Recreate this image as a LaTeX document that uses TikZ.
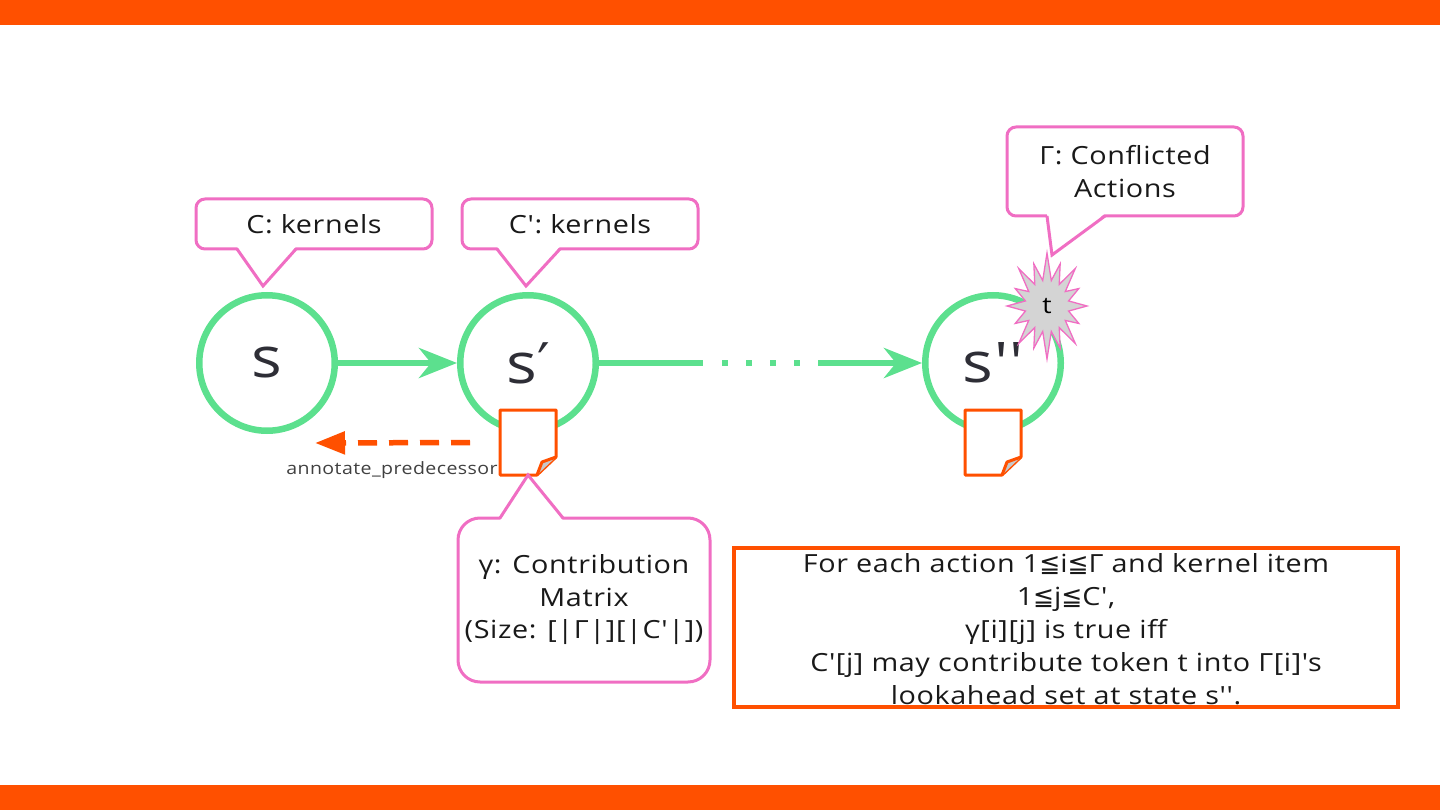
\documentclass[tikz,border=0pt]{standalone}
\usepackage{fontspec}
\setmainfont{Open Sans}[Ligatures=TeXOff,FakeStretch=1.15,LetterSpace=2.5]
\newfontfamily\symfont{DejaVu Sans}
\usetikzlibrary{arrows.meta,positioning}

\definecolor{brandorange}{HTML}{FF5000}
\definecolor{stategreen}{HTML}{5CE08E}
\definecolor{notepink}{HTML}{F06EC3}
\definecolor{burstgray}{HTML}{D4D4D4}
\definecolor{foldgray}{HTML}{C8C8C8}
\definecolor{labelgray}{HTML}{2E2E36}

\tikzset{
	state/.style={circle,draw=stategreen,line width=6.5pt,minimum size=135.5pt,inner sep=0pt,
		font=\fontsize{56}{60}\selectfont,text=labelgray},
	note/.style={draw=notepink,line width=3pt,fill=white,rounded corners=9pt,align=center,
		inner sep=0pt,outer sep=0pt,font=\fontsize{25}{32.5}\selectfont,text=black!90},
	pointer/.style={draw=notepink,line width=3pt,line join=miter},
	move/.style={draw=stategreen,line width=6pt,-{Stealth[length=38pt,width=30pt,inset=12pt]}},
	annot/.style={draw=brandorange,line width=5.5pt,dash pattern=on 19pt off 12pt,
		-{Triangle[length=30pt,width=22pt]}},
	docbox/.style={minimum width=56pt,minimum height=65pt,inner sep=0pt,outer sep=0pt},
	doc/.style={draw=brandorange,line width=3pt,fill=white,line join=round},
	burst/.style={draw=notepink,line width=1.3pt,fill=burstgray,line join=miter},
}

\begin{document}
\begin{tikzpicture}[x=1pt,y=-1pt]
	\useasboundingbox (0,0) rectangle (1440,810);
	\fill[brandorange] (0,0) rectangle (1440,25);
	\fill[brandorange] (0,785) rectangle (1440,810);

	% states
	\node[state] (s) at (267,363) {s};
	\node[state] (s1) at (528,363) {s{\symfont ′}};
	\node[state] (s2) at (993,363) {s''};

	\draw[move] (s) -- (s1);
	\draw[move,dash pattern=on 104pt off 19pt on 6pt off 18pt on 6pt off 18pt on 6pt off 18pt on 6pt off 18pt on 400pt] (s1) -- (s2);

	% kernel notes
	\node[note,minimum width=236pt,minimum height=50pt] (ck) at (314,224) {C: kernels};
	\fill[white] ([xshift=-77pt,yshift=2.5pt]ck.south) -- ([xshift=-4pt,yshift=6pt]s.north) -- ([xshift=-18pt,yshift=2.5pt]ck.south) -- cycle;
	\draw[pointer] ([xshift=-77pt]ck.south) -- ([xshift=-4pt,yshift=6pt]s.north) -- ([xshift=-18pt]ck.south);

	\node[note,minimum width=236pt,minimum height=50pt] (ck1) at (580,224) {C': kernels};
	\fill[white] ([xshift=-83pt,yshift=2.5pt]ck1.south) -- ([xshift=-2pt,yshift=6pt]s1.north) -- ([xshift=-20pt,yshift=2.5pt]ck1.south) -- cycle;
	\draw[pointer] ([xshift=-83pt]ck1.south) -- ([xshift=-2pt,yshift=6pt]s1.north) -- ([xshift=-20pt]ck1.south);

	% conflict token
	\coordinate (bc) at (1047,306);
	\draw[burst] ([shift={(0:40 and 53)}]bc)
		\foreach \i [evaluate=\i as \f using {1-0.14*mod(\i,2)}] in {1,...,15} {
			-- ([shift={({\i*22.5-11.25}:22 and 26)}]bc) -- ([shift={({\i*22.5}:{40*\f} and {53*\f})}]bc)
		} -- ([shift={(348.75:22 and 26)}]bc) -- cycle;
	\node[font=\fontsize{23}{26}\selectfont] (t) at (bc) {t};

	\node[note,minimum width=236pt,minimum height=89pt] (gam) at (1125,171.5) {Γ: Conflicted\\Actions};
	\fill[white] ([xshift=-78pt,yshift=2.5pt]gam.south) -- ([xshift=5pt,yshift=51pt]t.center) -- ([xshift=-20pt,yshift=2.5pt]gam.south) -- cycle;
	\draw[pointer] ([xshift=-78pt]gam.south) -- ([xshift=5pt,yshift=51pt]t.center) -- ([xshift=-20pt]gam.south);

	% annotations
	\coordinate (pred) at (315,443);
	\node[docbox] (d1) at (528,442.5) {};
	\draw[annot] ([xshift=-30pt]d1.west) -- (pred);
	\node[font=\fontsize{17}{20}\selectfont,text=black!75] (predlabel) at (392,470) {annotate\_predecessor};
	\draw[doc] (d1.north west) -- (d1.north east) -- ([yshift=18pt]d1.south east) -- ([xshift=-19pt]d1.south east) -- (d1.south west) -- cycle;
	\draw[doc,fill=foldgray] ([yshift=18pt]d1.south east) -- ([xshift=-14pt,yshift=13pt]d1.south east) -- ([xshift=-19pt]d1.south east);

	\node[docbox] (d2) at (993,442.5) {};
	\draw[doc] (d2.north west) -- (d2.north east) -- ([yshift=18pt]d2.south east) -- ([xshift=-19pt]d2.south east) -- (d2.south west) -- cycle;
	\draw[doc,fill=foldgray] ([yshift=18pt]d2.south east) -- ([xshift=-14pt,yshift=13pt]d2.south east) -- ([xshift=-19pt]d2.south east);

	\node[note,rounded corners=22pt,minimum width=252pt,minimum height=164pt] (contrib) at (584,600)
		{γ: Contribution\\Matrix\\(Size: [|Γ|][|C'|])};
	\fill[white] ([xshift=-84pt,yshift=-2.5pt]contrib.north) -- (d1.south) -- ([xshift=-21pt,yshift=-2.5pt]contrib.north) -- cycle;
	\draw[pointer] ([xshift=-84pt]contrib.north) -- (d1.south) -- ([xshift=-21pt]contrib.north);

	% rule
	\draw[brandorange,line width=3.5pt] (734,548) rectangle (1398,707);
	\node[align=center,font=\fontsize{25}{33}\selectfont,text=black!90] (rule) at (1066,629)
		{For each action 1{\symfont ≦}i{\symfont ≦}Γ and kernel item\\1{\symfont ≦}j{\symfont ≦}C',\\γ[i][j] is true iff\\C'[j] may contribute token t into Γ[i]'s\\lookahead set at state s''.};
\end{tikzpicture}
\end{document}
